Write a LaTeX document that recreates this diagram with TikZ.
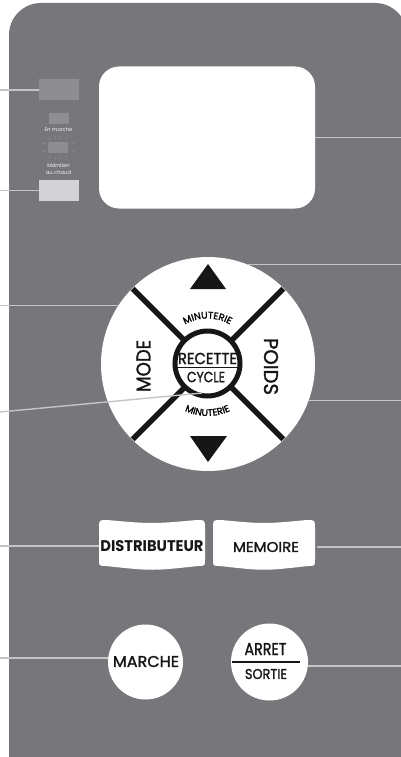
\documentclass[tikz,border=0pt]{standalone}
\usepackage{fontspec}
\setmainfont{Poppins}
\newfontfamily\medfont{Poppins}[FakeBold=1.6]
\usetikzlibrary{calc,decorations.text}
\definecolor{panel}{HTML}{77777B}
\definecolor{ledA}{HTML}{8E8E92}
\definecolor{ledB}{HTML}{D3D3D5}
\definecolor{leader}{HTML}{C4C4C6}
\definecolor{ink}{HTML}{161616}
\newcommand\fitbox[3]{\resizebox{#1pt}{#2pt}{\medfont #3}}
\newcommand\fitboxb[3]{\resizebox{#1pt}{#2pt}{\bfseries #3}}
\newcommand\minufont{\fontsize{9.6}{9.6}\medfont}
\begin{document}
\begin{tikzpicture}[x=1pt,y=-1pt,
  leaderline/.style={draw=leader, line width=1.4pt},
  xline/.style={draw=ink, line width=5.5pt},
  lbl/.style={inner sep=0pt, outer sep=0pt, text=ink},
  ledbox/.style={rectangle, inner sep=0pt, outer sep=0pt, fill=#1},
  ledtext/.style={inner sep=0pt, text=white!92!panel, font=\fontsize{5.2}{6.3}\selectfont, align=center},
  roundkey/.style={circle, fill=white, inner sep=0pt, outer sep=0pt, minimum size=#1}]
\useasboundingbox (0,0) rectangle (401,757);
\clip (0,0) rectangle (401,757);
\fill[white] (0,0) rectangle (401,757);
% panel
\fill[panel] (9,757) -- (9,35) .. controls (9,17.3) and (23.3,3) .. (41,3) -- (375,3)
  .. controls (392.7,3) and (407,17.3) .. (407,35) -- (407,757) -- cycle;
\coordinate (edgeL) at (0,0);
\coordinate (edgeR) at (401,0);
% indicator lamps
\node[ledbox=ledA, minimum width=40, minimum height=21] (led1) at (59,90) {};
\node[ledbox=ledA, minimum width=20, minimum height=11] (sled1) at (59,118.5) {};
\node[ledtext] (txt1) at (58.5,129.5) {En marche};
\node[ledbox=ledA, minimum width=20, minimum height=11] (sled2) at (58,147.5) {};
\foreach \a in {22,58,80,100,122,158,202,238,260,280,302,338}
  \draw[ledA, line width=0.6pt] ($(sled2.center)+(\a:14 and 9.5)$) -- ($(sled2.center)+(\a:17.5 and 12)$);
\node[ledtext] (txt2) at (58.5,169) {Maintien\\au chaud};
\node[ledbox=ledB, minimum width=40, minimum height=21] (led2) at (59,190.5) {};
% display
\node[fill=white, rounded corners=20pt, minimum width=216, minimum height=142, inner sep=0pt, outer sep=0pt] (disp) at (207,137.5) {};
% dial
\node[roundkey=214] (dial) at (208,364) {};
\begin{scope}
  \clip (208,364) circle (106.5);
  \foreach \a in {45,135,225,315}
    \draw[xline] (dial.center) -- ($(dial.center)+(\a:115)$);
\end{scope}
\node[circle, fill=white, draw=ink, line width=5pt, minimum size=65, inner sep=0pt] (rc) at (207.5,363.5) {};
\fill[ink] (208,264) -- (226,289) -- (190,289) -- cycle;
\fill[ink] (190,436) -- (227,436) -- (208,462) -- cycle;
\node[lbl] (rec) at (207.5,358.5) {\fitbox{59}{11.3}{RECETTE}};
\draw[ink, line width=1.3pt] ($(rec.south west)+(0,3)$) -- ($(rec.south east)+(0,3)$);
\node[lbl] (cyc) at (206,377) {\fitbox{38}{10.4}{CYCLE}};
\node[lbl, rotate=90] (mode) at (143.5,366) {\fitbox{52}{14}{MODE}};
\node[lbl, rotate=-90] (poids) at (271,366.5) {\fitbox{57}{14}{POIDS}};
\path[decorate, decoration={text along path, text={|\minufont|MINUTERIE}, text align=center}]
  ($(rc.center)+(-160:45)$) arc (-160:-20:45);
\path[decorate, decoration={text along path, text={|\minufont|MINUTERIE}, text align=center}]
  ($(rc.center)+(160:52.5)$) arc (160:20:52.5);
% keys
\fill[white] (99,528) .. controls (99,520) .. (107,520) .. controls (152,524) .. (197,520)
  .. controls (205,520) .. (205,528) -- (205,559) .. controls (205,566) .. (198,566)
  .. controls (152,571) .. (106,566) .. controls (99,566) .. (99,559) -- cycle;
\fill[white] (213,528) .. controls (213,520) .. (221,520) .. controls (264,524) .. (307,520)
  .. controls (315,520) .. (315,528) -- (315,559) .. controls (315,566) .. (308,566)
  .. controls (264,571) .. (220,566) .. controls (213,566) .. (213,559) -- cycle;
\node[lbl, minimum width=106] (dist) at (152,546) {\fitboxb{103}{11}{DISTRIBUTEUR}};
\node[lbl, minimum width=102] (mem) at (266,547) {\fitbox{66}{10}{MEMOIRE}};
\node[roundkey=75] (marche) at (145.5,662) {};
\node[lbl] (marchetxt) at (146,661.5) {\fitbox{66}{11}{MARCHE}};
\node[roundkey=77] (arret) at (269.5,662) {};
\node[lbl] (arrettxt) at (265.5,649) {\fitbox{42}{12}{ARRET}};
\node[lbl] (sortietxt) at (266,674) {\fitbox{42}{10}{SORTIE}};
\draw[ink, line width=1.5pt] (232,662) -- (300,662);
% leader lines
\coordinate (slantL) at (0,412);
\coordinate (rcend) at ($(rc.center)+(-5.5,29.5)$);
\draw[leaderline] (led1.west -| edgeL) -- (led1.west);
\draw[leaderline] (led2.west -| edgeL) -- (led2.west);
\draw[leaderline] (disp.east) -- (disp.east -| edgeR);
\draw[leaderline] (dial.68) -- (dial.68 -| edgeR);
\draw[leaderline] (dial.147 -| edgeL) -- (dial.147);
\draw[leaderline] (slantL) -- (rcend);
\draw[leaderline] (dial.-20) -- (dial.-20 -| edgeR);
\draw[leaderline] (dist.west -| edgeL) -- (dist.west);
\draw[leaderline] (mem.east) -- (mem.east -| edgeR);
\draw[leaderline] (marche.174 -| edgeL) -- (marche.174);
\draw[leaderline] (arret.-6) -- (arret.-6 -| edgeR);
\end{tikzpicture}
\end{document}
